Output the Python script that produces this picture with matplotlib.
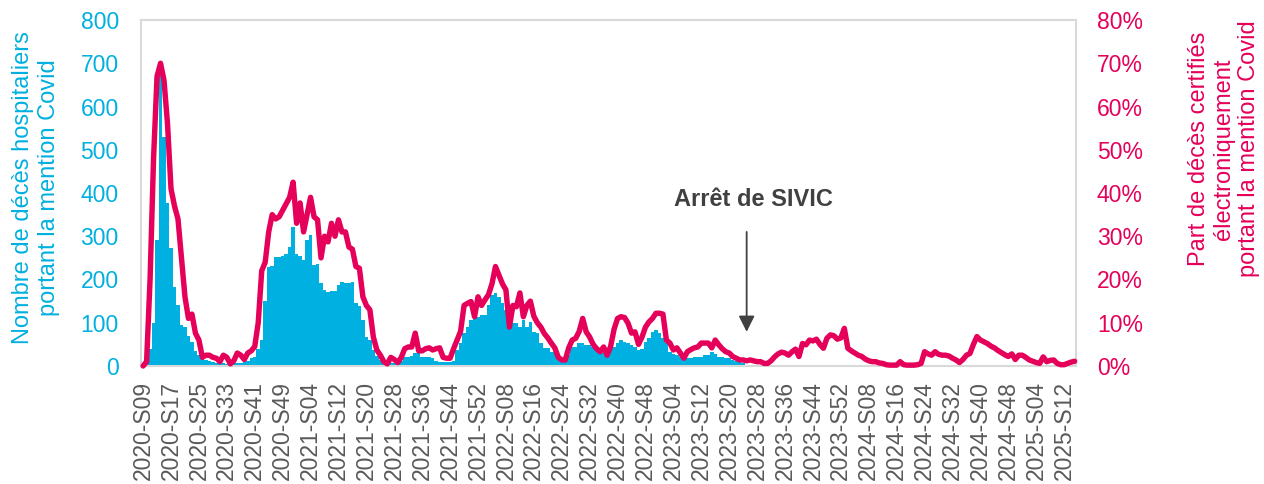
import matplotlib
matplotlib.use("Agg")
import matplotlib.pyplot as plt
from matplotlib.ticker import FuncFormatter, MultipleLocator
import numpy as np

plt.rcParams['font.family'] = ['Liberation Sans', 'DejaVu Sans']

# ---- categories (ISO weeks) ----
YEAR_WEEKS = [(2020, 9, 53), (2021, 1, 52), (2022, 1, 52),
              (2023, 1, 52), (2024, 1, 52), (2025, 1, 15)]
weeks = [f"{y}-S{w:02d}" for y, a, b in YEAR_WEEKS for w in range(a, b + 1)]
tick_labels = weeks[::8]
SIVIC_STOP_WEEK = "2023-S25"

# ---- hospital deaths mentioning Covid (SIVIC), from 2020-S09 ----
hosp_deaths = [
    0, 5, 40, 100, 291, 680, 530, 376, 272, 183,
    140, 95, 90, 70, 55, 35, 25, 18, 14, 12,
    10, 8, 7, 6, 5, 5, 6, 7, 8, 10,
    12, 18, 20, 40, 60, 150, 229, 232, 252, 253,
    255, 260, 276, 322, 260, 255, 245, 291, 303, 233,
    235, 192, 175, 171, 173, 173, 187, 195, 192, 192,
    195, 145, 138, 106, 66, 60, 37, 22, 15, 8,
    8, 7, 7, 8, 12, 21, 21, 22, 30, 33,
    21, 21, 20, 18, 12, 10, 10, 10, 10, 12,
    37, 53, 76, 90, 106, 113, 113, 118, 118, 141,
    164, 168, 160, 145, 129, 90, 99, 99, 90, 106,
    90, 102, 79, 76, 53, 42, 42, 33, 33, 14,
    14, 14, 25, 44, 44, 53, 53, 49, 49, 45,
    37, 30, 30, 30, 37, 45, 53, 60, 55, 53,
    49, 45, 37, 40, 55, 64, 78, 83, 76, 64,
    53, 33, 28, 25, 21, 18, 18, 18, 21, 21,
    21, 25, 25, 33, 28, 21, 21, 18, 18, 14,
    12, 9, 8,
]

# ---- share of electronically certified deaths mentioning Covid (%) ----
share_pct = [
    0, 1, 20, 48, 67, 70, 66, 56, 41, 37,
    34, 25, 16, 11, 12, 7.6, 6, 2, 2.5, 2.5,
    2, 1.8, 1, 2.5, 2, 0.5, 1.2, 3, 2.5, 1.5,
    3, 3.5, 4.5, 10, 22, 24, 31, 35, 34, 34.5,
    36, 37.5, 39, 42.5, 33, 37.7, 31, 35, 39, 34.5,
    33.8, 25, 30, 28.7, 33, 30, 33.8, 31, 31, 27.5,
    27, 23, 22.6, 16, 14, 13, 6.7, 3.7, 2.5, 1,
    0.5, 2, 1.5, 0.8, 2, 4, 4.4, 4.4, 7.6, 3.5,
    3.5, 4, 4.2, 3.7, 4, 4.2, 2, 1.8, 1.8, 4,
    6, 8, 14, 14.5, 14.9, 11.4, 16, 14, 15.3, 16.5,
    19, 23, 21, 19, 17.6, 9, 14, 13.7, 16.9, 11.4,
    14, 15, 11.5, 10, 9, 7.5, 6.5, 5.3, 4.2, 2,
    1.4, 1.4, 4.2, 6, 6.4, 8, 11, 7.9, 6.7, 5,
    4, 3.3, 4.4, 2.5, 4.5, 8.5, 11, 11.4, 11.2, 9.9,
    7.6, 7.9, 5, 6.7, 9, 10.2, 11, 12.2, 12.2, 12,
    6, 5.3, 3.7, 4.2, 3, 1.8, 3.3, 3.8, 4.2, 4.4,
    5.3, 5.3, 5.3, 4.2, 6, 4.9, 4, 3.3, 3, 2.2,
    1.8, 1.4, 1.4, 1.2, 1.4, 1.2, 1, 1, 0.6, 0.6,
    1.2, 2.1, 2.8, 3.2, 3, 2.5, 3.3, 3.9, 2.2, 5.2,
    4.9, 6, 5.8, 6.2, 5, 4.1, 6.4, 7.2, 7, 6.2,
    6.5, 8.7, 4.1, 3.5, 3, 2.5, 2.2, 1.6, 1.2, 1,
    1, 0.7, 0.6, 0.3, 0.2, 0.2, 0.2, 1, 0.3, 0.2,
    0.2, 0.2, 0.3, 0.6, 3.3, 2.8, 2.5, 3.3, 2.7, 2.5,
    2.5, 2.3, 1.8, 1.4, 0.8, 1.5, 2.5, 2.9, 5, 6.8,
    6, 5.6, 5.2, 4.6, 4.2, 3.6, 3.1, 2.6, 2.2, 2.8,
    1.5, 2.5, 2.5, 2, 1.4, 1.1, 0.8, 0.6, 2.1, 1,
    1.3, 1.4, 0.6, 0.3, 0.3, 0.6, 0.9, 1.1,
]

CYAN = "#00B0E0"
PINK = "#E5005A"
FRAME = "#D9D9D9"
GREY = "#595959"
DARK = "#404040"
FS = 16.5

W, H = 1264, 484
fig = plt.figure(figsize=(W / 100, H / 100), dpi=100)
ax = fig.add_axes([141 / W, 1 - 366 / H, (1076 - 141) / W, (366 - 20) / H])

xb = np.arange(len(hosp_deaths))
ax.bar(xb, hosp_deaths, width=1.0, color=CYAN, linewidth=0, zorder=2)
ax.set_xlim(-0.6, len(weeks) - 1 + 0.4)
ax.set_ylim(0, 800)
ax.yaxis.set_major_locator(MultipleLocator(100))
tick_pos = [weeks.index(t) for t in tick_labels]
ax.set_xticks(tick_pos)
ax.set_xticklabels(tick_labels, rotation=90, fontsize=FS, color=GREY)
ax.tick_params(axis='x', length=0, pad=11)
ax.tick_params(axis='y', length=0, pad=16, labelsize=FS, labelcolor=CYAN)
for s in ax.spines.values():
    s.set_color(FRAME)
    s.set_linewidth(1.5)

ax2 = ax.twinx()
ax2.plot(np.arange(len(share_pct)), np.array(share_pct) / 100, color=PINK,
         lw=3.9, solid_joinstyle='round', solid_capstyle='round', clip_on=False)
ax2.set_ylim(0, 0.8)
ax2.yaxis.set_major_locator(MultipleLocator(0.1))
ax2.yaxis.set_major_formatter(FuncFormatter(lambda v, p: f"{v * 100:.0f}%"))
ax2.tick_params(axis='y', length=0, pad=15, labelsize=FS, labelcolor=PINK)
for s in ax2.spines.values():
    s.set_visible(False)

# annotation
si = weeks.index(SIVIC_STOP_WEEK)
ax.annotate("", xy=(si, 79), xytext=(si, 310),
            arrowprops=dict(arrowstyle='-|>', color=DARK, lw=1.3,
                            mutation_scale=24, shrinkA=0, shrinkB=0))
ax.text(si + 2, 384, "Arrêt de SIVIC", ha='center', va='center',
        fontsize=17, fontweight='bold', color=DARK)

fig.text(36 / W, 1 - 188 / H, "Nombre de décès hospitaliers\nportant la mention Covid",
         rotation=90, ha='center', va='center', multialignment='center',
         color=CYAN, fontsize=17)
fig.text(1224 / W, 1 - 149 / H, "Part de décès certifiés\nélectroniquement\nportant la mention Covid",
         rotation=90, ha='center', va='center', multialignment='center',
         color=PINK, fontsize=17)

fig.savefig("out.png", dpi=100)
